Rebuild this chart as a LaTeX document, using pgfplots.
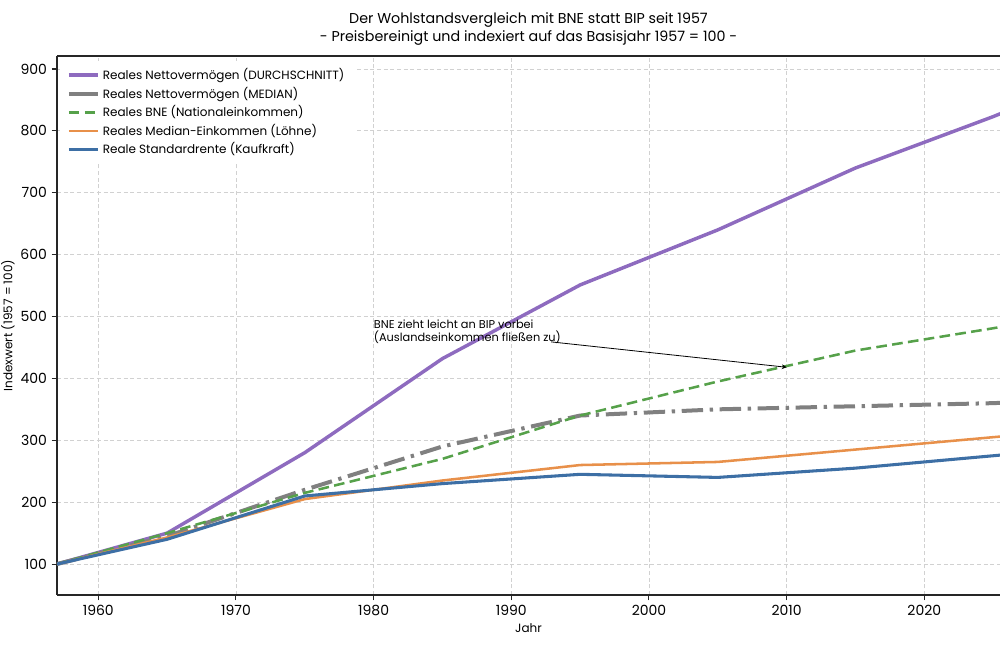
\documentclass[border=0pt]{standalone}
\usepackage{fontspec}
\setmainfont{Poppins}
\usepackage{pgfplots}
\pgfplotsset{compat=1.18}
\definecolor{cpurple}{HTML}{8E6BBF}
\definecolor{cgray}{HTML}{808080}
\definecolor{cgreen}{HTML}{56A14A}
\definecolor{corange}{HTML}{E8904A}
\definecolor{cblue}{HTML}{3D6FA5}
\begin{document}
\begin{tikzpicture}
\path[use as bounding box] (-42.75pt,-37.5pt) rectangle (707.25pt,446.25pt);
\begin{axis}[
  at={(0,0)}, anchor=south west,
  width=707.25pt, height=404.25pt, scale only axis,
  xmin=1957, xmax=2025.5, ymin=50, ymax=921,
  xtick={1960,1970,...,2020}, ytick={100,200,...,900},
  /pgf/number format/assume math mode=true,
  /pgf/number format/1000 sep={},
  ticklabel style={font=\fontsize{10.5}{12}\selectfont},
  grid=major, grid style={densely dashed, black!18, line width=0.6pt},
  axis lines*=left, axis line style={line width=0.9pt, black!85},
  tick align=outside, major tick length=4pt, tick style={line width=0.8pt, black!85},
  xlabel={Jahr}, ylabel={Indexwert (1957 = 100)},
  xlabel style={at={(axis description cs:0.5,0)}, anchor=center, yshift=-25pt, font=\fontsize{9}{11}\selectfont},
  ylabel style={at={(axis description cs:-0.052,0.5)}, anchor=center, font=\fontsize{9}{11}\selectfont},
  title={Der Wohlstandsvergleich mit BNE statt BIP seit 1957\\- Preisbereinigt und indexiert auf das Basisjahr 1957 = 100 -},
  title style={at={(0.5,1)}, anchor=south, yshift=-1.5pt, align=center, font=\fontsize{10.7}{13.5}\selectfont},
  legend style={at={(rel axis cs:0.003,0.992)}, anchor=north west, draw=none, fill=white,
    font=\fontsize{9}{11}\selectfont, row sep=0pt, inner xsep=5pt, inner ysep=4pt,
    /tikz/every even column/.append style={column sep=6pt}},
  legend cell align=left,
  legend image code/.code={\draw[#1] (0pt,0pt) -- (22pt,0pt);},
]
\addplot[cpurple, line width=2.6pt] coordinates {(1957,100) (1965,150) (1975,280) (1985,432) (1995,551) (2005,640) (2015,740) (2025,823) (2026,832)};
\addlegendentry{Reales Nettovermögen (DURCHSCHNITT)}
\addplot[cgray, line width=3pt, dash pattern=on 16pt off 5pt on 2.5pt off 5pt, forget plot] coordinates {(1957,100) (1965,145) (1975,220) (1985,290) (1995,340) (2005,350) (2015,355) (2025,360) (2026,361)};
\addlegendimage{cgray, line width=3pt, solid}
\addlegendentry{Reales Nettovermögen (MEDIAN)}
\addplot[cgreen, line width=1.9pt, dash pattern=on 8pt off 4pt] coordinates {(1957,100) (1965,150) (1975,215) (1985,270) (1995,340) (2005,395) (2015,445) (2025,481) (2026,485)};
\addlegendentry{Reales BNE (Nationaleinkommen)}
\addplot[corange, line width=1.9pt] coordinates {(1957,100) (1965,143) (1975,205) (1985,235) (1995,260) (2005,265) (2015,285) (2025,305) (2026,307)};
\addlegendentry{Reales Median-Einkommen (Löhne)}
\addplot[cblue, line width=2.3pt] coordinates {(1957,100) (1965,140) (1975,210) (1985,230) (1995,245) (2005,240) (2015,255) (2025,275) (2026,277)};
\addlegendentry{Reale Standardrente (Kaufkraft)}
\draw[line width=0.9pt, black!85] (rel axis cs:0,1) -- (rel axis cs:1,1);
\node[anchor=west, align=left, font=\fontsize{8.5}{10}\selectfont, inner sep=0pt] at (axis cs:1980,475) {BNE zieht leicht an BIP vorbei\\(Auslandseinkommen fließen zu)};
\draw[-stealth, line width=0.6pt] (axis cs:1992.9,459) -- (axis cs:2010,418);
\end{axis}
\end{tikzpicture}
\end{document}
